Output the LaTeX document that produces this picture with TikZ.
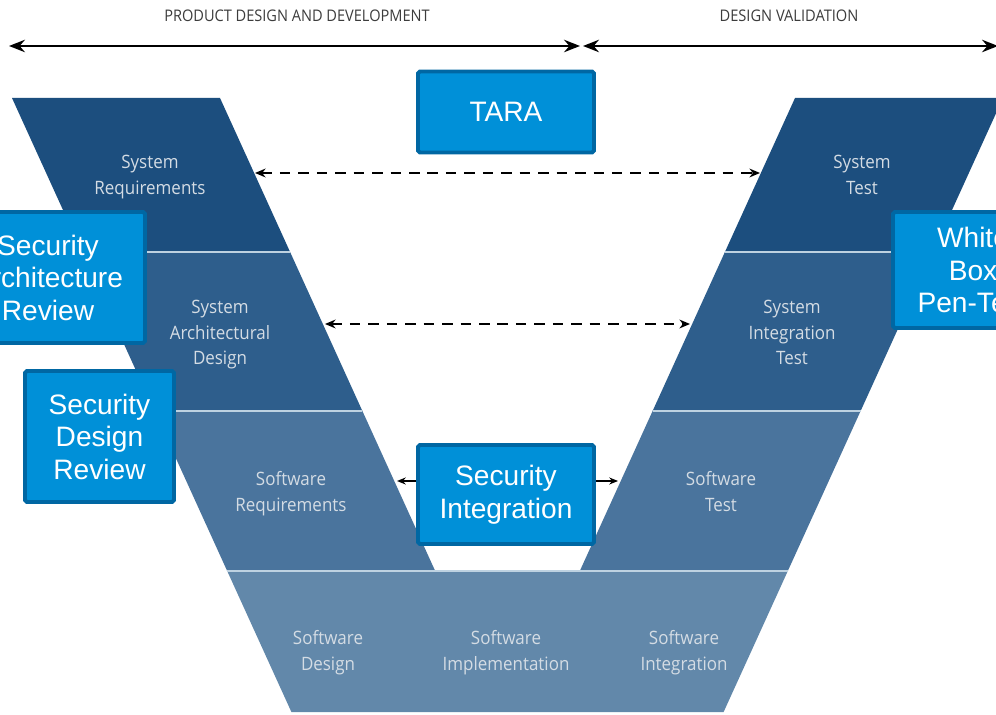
\documentclass[tikz,border=0pt]{standalone}
\usepackage{fontspec}
\setmainfont{Liberation Sans}
\newfontfamily\bandfont{Open Sans}
\usetikzlibrary{arrows.meta}
\definecolor{bandA}{RGB}{28,78,126}
\definecolor{bandB}{RGB}{46,94,140}
\definecolor{bandC}{RGB}{74,116,157}
\definecolor{bandD}{RGB}{98,136,170}
\definecolor{sepline}{RGB}{190,210,225}
\definecolor{boxfill}{RGB}{0,144,216}
\definecolor{boxedge}{RGB}{0,103,163}
\definecolor{bandtext}{RGB}{212,220,228}
\definecolor{headtext}{RGB}{60,60,60}
\newcommand{\bandlab}[1]{\scalebox{0.92}[1]{\begin{tabular}{@{}c@{}}#1\end{tabular}}}
\tikzset{
  bandlabel/.style={text=bandtext,font=\bandfont\fontsize{10.5}{14.7}\selectfont,inner sep=0pt},
  secbox/.style={fill=boxfill,draw=boxedge,line width=2.2pt,rounded corners=1pt,text=white,
    align=center,font=\fontsize{16}{18.5}\selectfont,inner sep=0pt},
  headarrow/.style={line width=1.5pt,{Stealth[length=9pt,width=7pt]}-{Stealth[length=9pt,width=7pt]}},
  linkarrow/.style={line width=1.1pt,dash pattern=on 6pt off 4.5pt,{Stealth[length=6pt,width=5pt]}-{Stealth[length=6pt,width=5pt]}},
  sidearrow/.style={line width=0.9pt,-{Stealth[length=5pt,width=4pt]}},
  sep/.style={draw=sepline,line width=1.2pt},
  headlabel/.style={text=headtext,inner sep=0pt}
}
\begin{document}
\begin{tikzpicture}[x=0.02cm,y=-0.02cm]
\useasboundingbox (0,0) rectangle (996,715);
\clip (0,0) rectangle (996,715);
\fill[white] (0,0) rectangle (996,715);
% header
\node[headlabel] (hpd) at (297,16) {\resizebox{151pt}{6.6pt}{\bandfont PRODUCT DESIGN AND DEVELOPMENT}};
\node[headlabel] (hdv) at (789,16) {\resizebox{79pt}{6.6pt}{\bandfont DESIGN VALIDATION}};
\coordinate (a1l) at (9,46);
\coordinate (a1r) at (580,46);
\coordinate (a2l) at (583,46);
\coordinate (a2r) at (998,46);
\draw[headarrow] (a1l) -- (a1r);
\draw[headarrow] (a2l) -- (a2r);
% left arm bands
\fill[bandA] (12,98) -- (220,98) -- (290.1,252) -- (82.1,252) -- cycle;
\fill[bandB] (82.1,252) -- (290.1,252) -- (362.4,411) -- (154.4,411) -- cycle;
\fill[bandC] (154.4,411) -- (362.4,411) -- (435.2,571) -- (227.2,571) -- cycle;
% right arm bands
\fill[bandA] (795,98) -- (1003,98) -- (932.9,252) -- (724.9,252) -- cycle;
\fill[bandB] (724.9,252) -- (932.9,252) -- (860.6,411) -- (652.6,411) -- cycle;
\fill[bandC] (652.6,411) -- (860.6,411) -- (787.8,571) -- (579.8,571) -- cycle;
% bottom band
\fill[bandD] (227.2,571) -- (787.8,571) -- (723.6,712) -- (291.4,712) -- cycle;
% separators
\draw[sep] (82.1,252) -- (290.1,252);
\draw[sep] (154.4,411) -- (362.4,411);
\draw[sep] (724.9,252) -- (932.9,252);
\draw[sep] (652.6,411) -- (860.6,411);
\draw[sep] (227.2,571) -- (787.8,571);
% band labels
\node[bandlabel] (sysreq) at (150,176) {\bandlab{System\\Requirements}};
\node[bandlabel] (sysarch) at (220,334) {\bandlab{System\\Architectural\\Design}};
\node[bandlabel] (swreq) at (291,493) {\bandlab{Software\\Requirements}};
\node[bandlabel] (swdes) at (328,652) {\bandlab{Software\\Design}};
\node[bandlabel] (swimp) at (506,652) {\bandlab{Software\\Implementation}};
\node[bandlabel] (swint) at (684,652) {\bandlab{Software\\Integration}};
\node[bandlabel] (swtest) at (721,493) {\bandlab{Software\\Test}};
\node[bandlabel] (sysint) at (792,334) {\bandlab{System\\Integration\\Test}};
\node[bandlabel] (systest) at (862,176) {\bandlab{System\\Test}};
% link arrows
\coordinate (sysreqR) at (255,173);
\coordinate (systestL) at (760,173);
\coordinate (sysarchR) at (325,324);
\coordinate (sysintL) at (690,324);
\draw[linkarrow] (sysreqR) -- (systestL);
\draw[linkarrow] (sysarchR) -- (sysintL);
% security boxes
\node[secbox,minimum width=3.52cm,minimum height=1.62cm] (tara) at (506,112) {TARA};
\node[secbox,minimum width=3.88cm,minimum height=2.62cm] (sar) at (48,277.5) {Security\\Architecture\\Review};
\node[secbox,minimum width=2.98cm,minimum height=2.62cm] (sdr) at (99.5,436.5) {Security\\Design\\Review};
\node[secbox,minimum width=3.52cm,minimum height=1.98cm] (si) at (506,494.5) {Security\\Integration};
\node[secbox,minimum width=3.2cm,minimum height=2.32cm] (wbp) at (973,270) {White\\Box\\Pen-Test};
% integration arrows
\coordinate (siL) at (397,481);
\coordinate (siR) at (618,481);
\draw[sidearrow] (si.west |- siL) -- (siL);
\draw[sidearrow] (si.east |- siR) -- (siR);
\end{tikzpicture}
\end{document}
